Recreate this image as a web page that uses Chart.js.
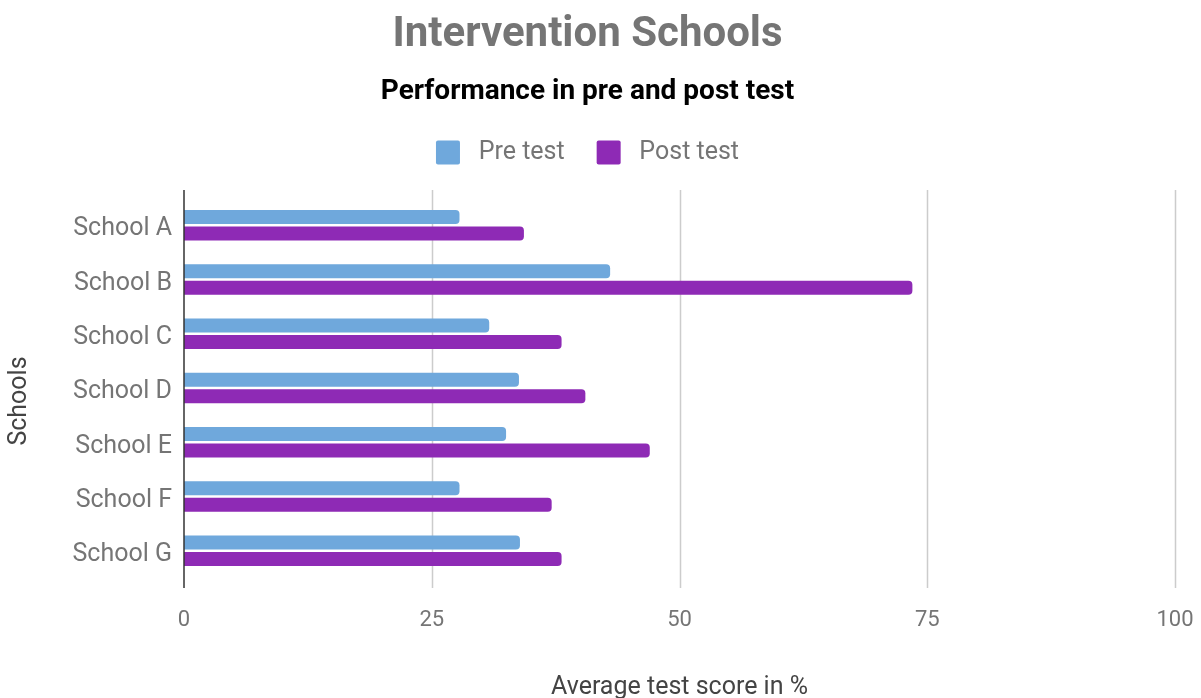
<!DOCTYPE html>
<html>
<head>
<meta charset="utf-8">
<script src="https://cdn.jsdelivr.net/npm/chart.js@4"></script>
<style>
  html, body { margin: 0; padding: 0; background: #fff; }
  canvas { display: block; }
</style>
</head>
<body>
<canvas id="schoolsChart" width="1201" height="698"></canvas>
<script>
// ---- data ----
const schools = ['School A', 'School B', 'School C', 'School D', 'School E', 'School F', 'School G'];
const preTest = [27.8, 43.0, 30.8, 33.8, 32.5, 27.8, 33.9];
const postTest = [34.3, 73.5, 38.1, 40.5, 47.0, 37.1, 38.1];
const scoreTicks = [0, 25, 50, 75, 100];

const PRE_COLOR = '#6fa8dc';
const POST_COLOR = '#8e2ab5';
const FONT = 'Roboto';

// extra room under the legend before the plot starts
const legendGap = {
  id: 'legendGap',
  beforeInit(chart) {
    const fit = chart.legend.fit;
    chart.legend.fit = function () {
      fit.call(this);
      this.height += 23;
    };
  }
};

// vertical grid lines run a little past the bars at top and bottom
const gridLines = {
  id: 'gridLines',
  beforeDatasetsDraw(chart) {
    const { ctx, chartArea, scales: { x } } = chart;
    const top = chartArea.top - 8;
    const bottom = chartArea.bottom + 10;
    ctx.save();
    scoreTicks.forEach(v => {
      if (v === 0) return;
      const px = Math.round(x.getPixelForValue(v)) + 0.5;
      ctx.strokeStyle = '#cccccc';
      ctx.lineWidth = 1.5;
      ctx.beginPath();
      ctx.moveTo(px, top);
      ctx.lineTo(px, bottom);
      ctx.stroke();
    });
    ctx.restore();
  },
  afterDatasetsDraw(chart) {
    const { ctx, chartArea, scales: { x } } = chart;
    const px = Math.round(x.getPixelForValue(0));
    ctx.save();
    ctx.strokeStyle = '#333333';
    ctx.lineWidth = 1.5;
    ctx.beginPath();
    ctx.moveTo(px, chartArea.top - 8);
    ctx.lineTo(px, chartArea.bottom + 10);
    ctx.stroke();

    // rotated y-axis title
    ctx.translate(20, (chartArea.top + chartArea.bottom) / 2 + 13);
    ctx.rotate(-Math.PI / 2);
    ctx.fillStyle = '#444444';
    ctx.font = `25px ${FONT}`;
    ctx.textAlign = 'center';
    ctx.textBaseline = 'middle';
    ctx.fillText('Schools', 0, 0);
    ctx.restore();
  }
};

new Chart(document.getElementById('schoolsChart'), {
  type: 'bar',
  data: {
    labels: schools,
    datasets: [
      {
        label: 'Pre test',
        data: preTest,
        backgroundColor: PRE_COLOR,
        borderRadius: 4,
        borderSkipped: 'start',
        categoryPercentage: 0.608,
        barPercentage: 0.85
      },
      {
        label: 'Post test',
        data: postTest,
        backgroundColor: POST_COLOR,
        borderRadius: 4,
        borderSkipped: 'start',
        categoryPercentage: 0.608,
        barPercentage: 0.85
      }
    ]
  },
  options: {
    indexAxis: 'y',
    responsive: false,
    devicePixelRatio: 1,
    animation: false,
    layout: { padding: { left: 0, right: 26, top: 0, bottom: 0 } },
    plugins: {
      title: {
        display: true,
        text: 'Intervention Schools',
        color: '#757575',
        font: { family: FONT, size: 42, weight: 'bold' },
        padding: { top: 10, bottom: 15 }
      },
      subtitle: {
        display: true,
        text: 'Performance in pre and post test',
        color: '#000000',
        font: { family: FONT, size: 28, weight: 'bold' },
        padding: { top: 0, bottom: -1 }
      },
      legend: {
        position: 'top',
        labels: {
          color: '#757575',
          font: { family: FONT, size: 25 },
          boxWidth: 24,
          boxHeight: 24,
          useBorderRadius: true,
          borderRadius: 2,
          padding: 32,
          // a little more space between swatch and text
          generateLabels: chart => Chart.defaults.plugins.legend.labels.generateLabels(chart)
            .map(item => ({ ...item, text: ' ' + item.text }))
        }
      },
      tooltip: { enabled: false }
    },
    scales: {
      x: {
        min: 0,
        max: 100,
        afterBuildTicks: scale => { scale.ticks = scoreTicks.map(v => ({ value: v })); },
        afterFit: scale => {
          scale.height = 120;
          scale.paddingRight = 0;
        },
        grid: { display: false },
        border: { display: false },
        ticks: {
          color: '#757575',
          padding: 21,
          font: { family: FONT, size: 22 }
        },
        title: {
          display: true,
          text: 'Average test score in %',
          color: '#444444',
          font: { family: FONT, size: 25, lineHeight: 1 },
          padding: { top: 0, bottom: -2 }
        }
      },
      y: {
        afterFit: scale => { scale.width = 184; },
        grid: { display: false },
        border: { display: false },
        ticks: {
          color: '#757575',
          padding: 4,
          labelOffset: 4,
          font: { family: FONT, size: 25 }
        }
      }
    }
  },
  plugins: [legendGap, gridLines]
});
</script>
</body>
</html>
